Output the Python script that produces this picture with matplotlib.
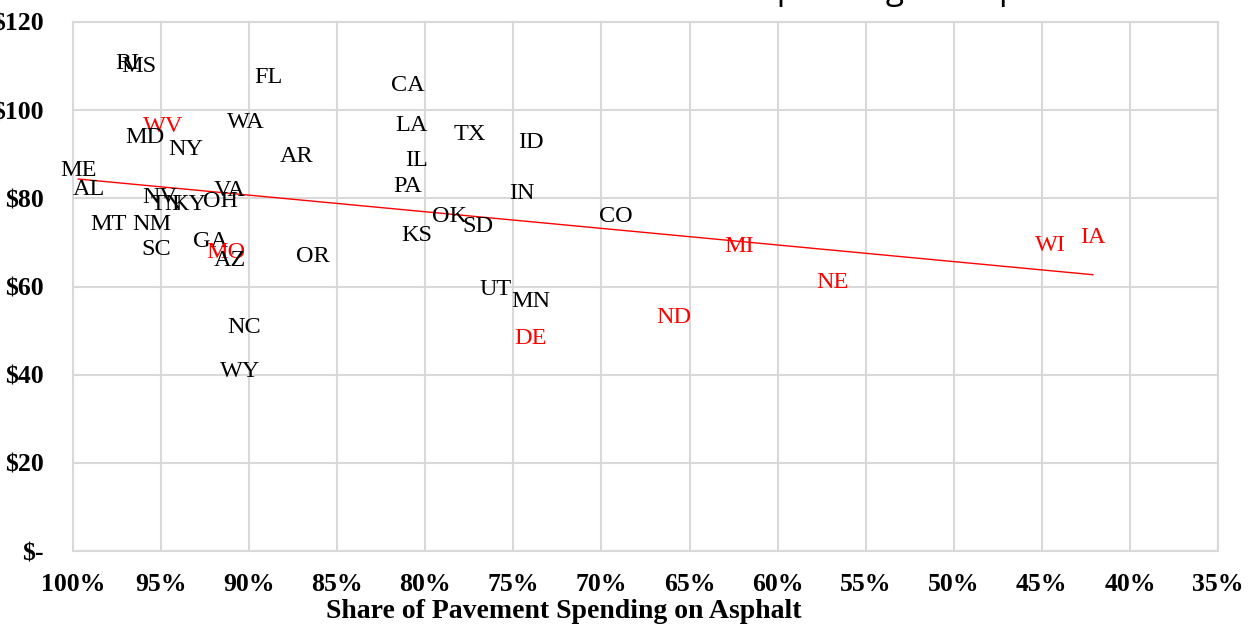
import numpy as np
import matplotlib
matplotlib.use("Agg")
import matplotlib.pyplot as plt
from matplotlib.ticker import FuncFormatter

# state, share of pavement spending on asphalt (%), cost ($)
states = ["RI", "MS", "FL", "WV", "WA", "MD", "NY", "AR", "ME", "AL",
          "NV", "VA", "TN", "KY", "OH", "MT", "NM", "GA", "SC", "MO",
          "AZ", "OR", "NC", "WY", "CA", "LA", "TX", "ID", "IL", "PA",
          "IN", "OK", "SD", "KS", "CO", "UT", "MN", "DE", "ND", "MI",
          "NE", "WI", "IA"]
asphalt_share = [96.9, 96.25, 88.9, 94.9, 90.2, 95.9, 93.6, 87.3, 99.7, 99.1,
                 95.1, 91.1, 94.7, 93.4, 91.6, 98.0, 95.5, 92.2, 95.3, 91.3,
                 91.1, 86.4, 90.3, 90.5, 81.0, 80.8, 77.5, 74.0, 80.5, 81.0,
                 74.5, 78.6, 77.0, 80.5, 69.2, 76.0, 74.0, 74.0, 65.9, 62.2,
                 56.9, 44.5, 42.1]
cost = [110.5, 109.8, 107.5, 96.2, 97.1, 93.7, 91.0, 89.4, 86.4, 81.9,
        80.3, 81.7, 78.5, 78.7, 79.2, 74.0, 74.0, 70.1, 68.3, 67.6,
        65.8, 66.7, 50.6, 40.8, 105.7, 96.6, 94.4, 92.6, 88.5, 82.6,
        81.0, 75.8, 73.5, 71.5, 75.8, 59.4, 56.5, 48.3, 52.9, 69.0,
        60.8, 69.4, 71.2]
highlighted = ["WV", "MO", "MI", "NE", "ND", "DE", "WI", "IA"]

x_ticks = np.arange(100, 34, -5)
y_ticks = np.arange(0, 121, 20)

grid_color = "#d9d9d9"
serif = "Liberation Serif"

fig = plt.figure(figsize=(12.49, 6.27), dpi=100)
ax = fig.add_axes([73 / 1249, 76 / 627, 1145 / 1249, 529 / 627])

ax.set_xlim(100, 35)
ax.set_ylim(0, 120)
ax.set_xticks(x_ticks)
ax.set_yticks(y_ticks)
ax.xaxis.set_major_formatter(FuncFormatter(lambda v, p: f"{v:.0f}%"))
ax.yaxis.set_major_formatter(FuncFormatter(lambda v, p: "$-" if v == 0 else f"${v:.0f}"))

ax.grid(True, color=grid_color, linewidth=1.5)
ax.set_axisbelow(True)
for s in ax.spines.values():
    s.set_color(grid_color)
    s.set_linewidth(1.5)
ax.tick_params(length=0)
ax.tick_params(axis="x", pad=16)
ax.tick_params(axis="y", pad=21)
for lbl in ax.get_xticklabels() + ax.get_yticklabels():
    lbl.set_fontfamily(serif)
    lbl.set_fontweight("bold")
    lbl.set_fontsize(18.5)

# linear trend across all states
xs = np.array(asphalt_share)
ys = np.array(cost)
slope, intercept = np.polyfit(xs, ys, 1)
line_x = np.array([xs.max(), xs.min()])
ax.plot(line_x, slope * line_x + intercept, color="red", linewidth=1.0, zorder=2)

for st, xv, yv in zip(states, asphalt_share, cost):
    ax.text(xv, yv, st, ha="center", va="center", fontsize=17.5,
            family=serif, color="red" if st in highlighted else "black",
            zorder=3)

fig.text(564 / 1249, 1 - 612 / 627, "Share of Pavement Spending on Asphalt",
         ha="center", va="center", fontsize=20, fontweight="bold",
         family=serif)

# chart title sits mostly above the top edge
fig.text(1079 / 1249, 1 + 1 / 627,
         "Unit Cost vs. Share of Pavement Spending on Asphalt",
         ha="right", va="baseline", fontsize=24, family="Open Sans")

fig.savefig("out.png", dpi=100)
